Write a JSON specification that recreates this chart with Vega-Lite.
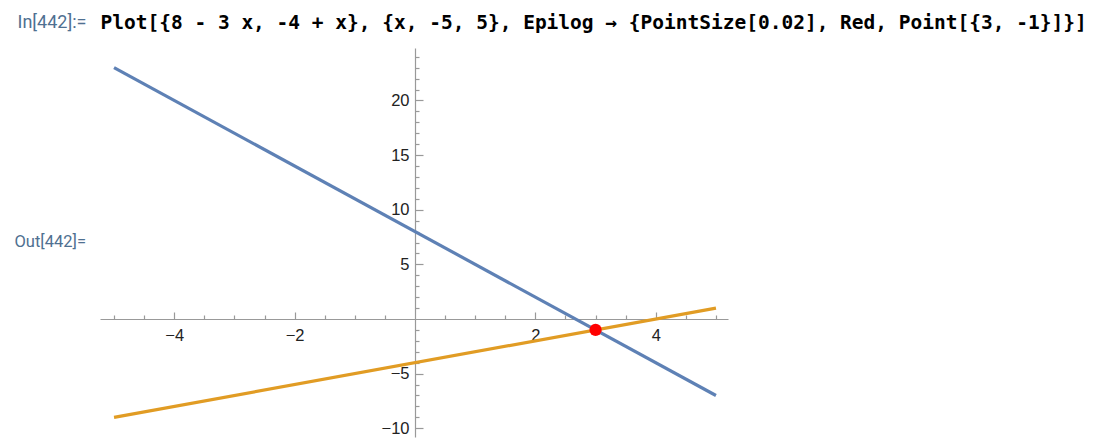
{
  "$schema": "https://vega.github.io/schema/vega-lite/v6.json",
  "width": 628,
  "height": 389,
  "autosize": {"type": "none"},
  "padding": {"left": 100, "top": 48, "right": 372, "bottom": 2},
  "background": "white",
  "config": {"view": {"stroke": null}, "axis": {"grid": false}},
  "datasets": {
    "lines": [
      {"x": -5, "y": 23, "series": "8 - 3x"},
      {"x": 5, "y": -7, "series": "8 - 3x"},
      {"x": -5, "y": -9, "series": "-4 + x"},
      {"x": 5, "y": 1, "series": "-4 + x"}
    ],
    "point": [{"x": 3, "y": -1}]
  },
  "layer": [
    {
      "data": {"name": "lines"},
      "mark": {"type": "line", "strokeWidth": 3.2, "clip": false},
      "encoding": {
        "x": {
          "field": "x", "type": "quantitative",
          "scale": {"domain": [-5.233, 5.2], "nice": false, "zero": false},
          "axis": {
            "orient": "bottom", "offset": -118, "values": [-4, -2, 2, 4],
            "tickSize": -7, "labelPadding": 15, "domainColor": "#999999", "tickColor": "#999999",
            "domainWidth": 1.2, "tickWidth": 1.2,
            "labelFont": "Liberation Sans", "labelFontSize": 16.5, "labelColor": "#222222",
            "labelOverlap": false, "labelFlush": false, "title": null
          }
        },
        "y": {
          "field": "y", "type": "quantitative",
          "scale": {"domain": [-10.8, 24.8], "nice": false, "zero": false},
          "axis": {
            "orient": "left", "offset": -315, "values": [-10, -5, 5, 10, 15, 20],
            "tickSize": -8, "labelPadding": 14, "domainColor": "#999999", "tickColor": "#999999",
            "domainWidth": 1.2, "tickWidth": 1.2,
            "labelFont": "Liberation Sans", "labelFontSize": 16.5, "labelColor": "#222222",
            "labelOverlap": false, "labelFlush": false,
            "title": "Out[442]=", "titleAngle": 0, "titleX": -401, "titleY": 193,
            "titleAlign": "left", "titleBaseline": "middle", "titleFont": "Roboto",
            "titleFontSize": 16.5, "titleFontWeight": "normal", "titleColor": "#4F7091"
          }
        },
        "color": {
          "field": "series", "type": "nominal",
          "scale": {"domain": ["8 - 3x", "-4 + x"], "range": ["#5E81B5", "#E19C24"]},
          "legend": null
        }
      }
    },
    {
      "data": {"name": "point"},
      "mark": {"type": "point", "filled": true, "size": 150, "color": "#FF0000", "opacity": 1, "clip": false},
      "encoding": {
        "x": {
          "field": "x", "type": "quantitative",
          "scale": {"domain": [-5.233, 5.2], "nice": false, "zero": false},
          "axis": {
            "orient": "bottom", "offset": -118,
            "values": [-5, -4.5, -3.5, -3, -2.5, -1.5, -1, -0.5, 0.5, 1, 1.5, 2.5, 3, 3.5, 4.5, 5],
            "tickSize": -4, "labels": false, "domain": false, "tickColor": "#999999", "tickWidth": 1.2,
            "title": "Plot[{8 - 3 x, -4 + x}, {x, -5, 5}, Epilog → {PointSize[0.02], Red, Point[{3, -1}]}]",
            "titleX": 0, "titleY": -297, "titleAlign": "left", "titleBaseline": "middle",
            "titleFont": "DejaVu Sans Mono", "titleFontSize": 19.5, "titleFontWeight": "bold", "titleColor": "#000000"
          }
        },
        "y": {
          "field": "y", "type": "quantitative",
          "scale": {"domain": [-10.8, 24.8], "nice": false, "zero": false},
          "axis": {
            "orient": "left", "offset": -315,
            "values": [-9, -8, -7, -6, -4, -3, -2, -1, 1, 2, 3, 4, 6, 7, 8, 9, 11, 12, 13, 14, 16, 17, 18, 19, 21, 22, 23, 24],
            "tickSize": -4, "labels": false, "domain": false, "tickColor": "#999999", "tickWidth": 1.2,
            "title": "In[442]:=", "titleAngle": 0, "titleX": -398, "titleY": -26,
            "titleAlign": "left", "titleBaseline": "middle", "titleFont": "Roboto",
            "titleFontSize": 18, "titleFontWeight": "normal", "titleColor": "#4F7091"
          }
        }
      }
    }
  ],
  "resolve": {"axis": {"x": "independent", "y": "independent"}}
}
